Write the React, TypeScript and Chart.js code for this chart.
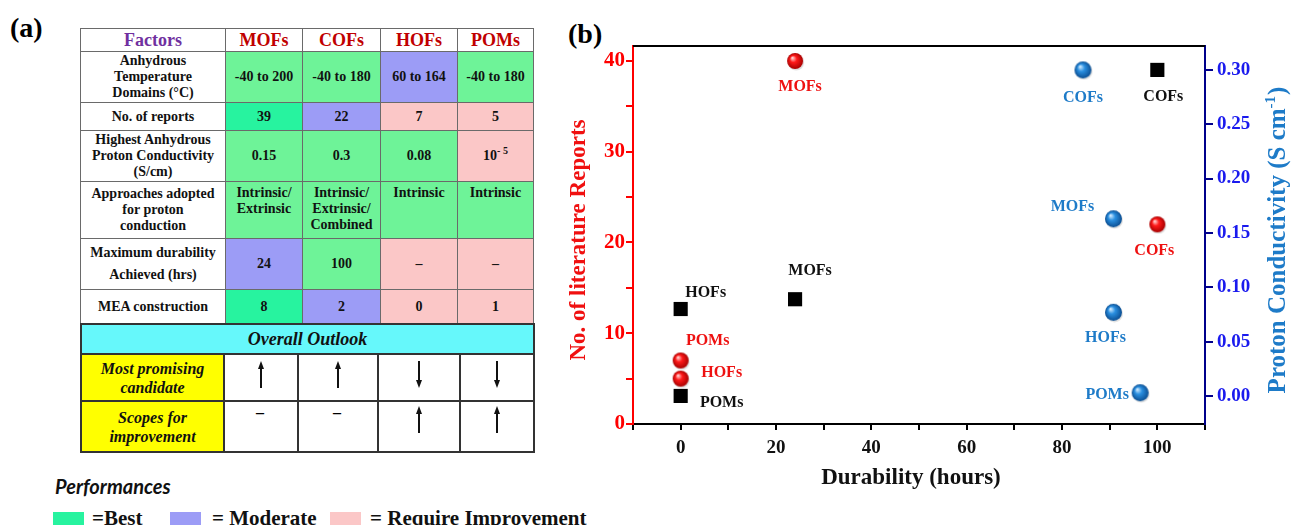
import React, { useEffect, useRef } from "react";
import { Chart, registerables } from "chart.js";
Chart.register(...registerables);

// ---------- Panel (a) table data ----------
const materials = ["MOFs", "COFs", "HOFs", "POMs"];
const factorNames = [
  "Anhydrous\nTemperature\nDomains (°C)",
  "No. of reports",
  "Highest Anhydrous\nProton Conductivity\n(S/cm)",
  "Approaches adopted\nfor proton\nconduction",
  "Maximum durability\nAchieved (hrs)",
  "MEA construction",
];
const tempDomains = ["-40 to 200", "-40 to 180", "60 to 164", "-40 to 180"];
const reportCounts = ["39", "22", "7", "5"];
const conductivities = ["0.15", "0.3", "0.08", "10^- 5"];
const approaches = ["Intrinsic/\nExtrinsic", "Intrinsic/\nExtrinsic/\nCombined", "Intrinsic", "Intrinsic"];
const durabilities = ["24", "100", "–", "–"];
const meaCounts = ["8", "2", "0", "1"];
// B = best, G = good, M = moderate, R = require improvement
const ratings = [
  ["G", "G", "M", "G"],
  ["B", "M", "R", "R"],
  ["G", "G", "G", "R"],
  ["G", "G", "G", "G"],
  ["M", "G", "R", "R"],
  ["B", "M", "R", "R"],
];
const outlookTitle = "Overall Outlook";
const outlookRows = ["Most promising\ncandidate", "Scopes for\nimprovement"];
const promising = ["up", "up", "down", "down"];
const scopes = ["dash", "dash", "up", "up"];
const legendItems = ["=Best", "= Moderate", "= Require Improvement"];
const legendKeys = ["B", "M", "R"];

// ---------- Panel (b) chart data ----------
const redLabels = ["MOFs", "COFs", "POMs", "HOFs"];
const redDurability = [24, 100, 0, 0];
const redReports = [40, 22, 7, 5];

const blackLabels = ["COFs", "MOFs", "HOFs", "POMs"];
const blackDurability = [100, 24, 0, 0];
const blackConductivity = [0.3, 0.089, 0.08, 0.00001];

const blueLabels = ["COFs", "MOFs", "HOFs", "POMs"];
const blueDurability = [84.4, 90.8, 90.8, 96.4];
const blueConductivity = [0.3, 0.163, 0.077, 0.003];

const xTickValues = [0, 20, 40, 60, 80, 100];
const yTickValues = [0, 10, 20, 30, 40];
const xTitle = "Durability (hours)";
const yTitle = "No. of literature Reports";
const y2TitleMain = "Proton Conductivity (S cm";
const y2TitleSup = "-1";
const y2TitleEnd = ")";

// label offsets relative to each mark (styling)
const redOffsets = [[5, 26], [-3, 27], [27, -20], [41, -6]];
const blackOffsets = [[6, 27], [15, -28], [25, -16], [41, 7]];
const blueOffsets = [[0, 28], [-41, -12], [-8, 26], [-33, 2]];

const COLORS: Record<string, string> = {
  B: "#27f39f",
  G: "#6ef398",
  M: "#9c9cf6",
  R: "#fbc7c7",
};

const SERIF = '"Liberation Serif", "Times New Roman", serif';

function makeSphere(r: number, light: string, mid: string, dark: string) {
  const c = document.createElement("canvas");
  const s = Math.ceil(r * 2 + 4);
  c.width = s;
  c.height = s;
  const g = c.getContext("2d")!;
  const cx = s / 2, cy = s / 2;
  g.fillStyle = "rgba(0,0,0,0.12)";
  g.beginPath();
  g.arc(cx + 1, cy + 1.5, r, 0, Math.PI * 2);
  g.fill();
  const grad = g.createRadialGradient(cx - r * 0.35, cy - r * 0.4, r * 0.05, cx, cy, r);
  grad.addColorStop(0, light);
  grad.addColorStop(0.4, mid);
  grad.addColorStop(1, dark);
  g.fillStyle = grad;
  g.beginPath();
  g.arc(cx, cy, r, 0, Math.PI * 2);
  g.fill();
  return c;
}

function renderText(t: string) {
  if (t.includes("^")) {
    const [base, sup] = t.split("^");
    return (
      <span>
        {base}
        <sup style={{ fontSize: 10, verticalAlign: "6px", lineHeight: 0 }}>{sup}</sup>
      </span>
    );
  }
  return t;
}

function Cell(props: {
  x: number; y: number; w: number; h: number; bg?: string; border?: string;
  children?: React.ReactNode; style?: React.CSSProperties; valign?: string;
}) {
  const { x, y, w, h, bg, border, children, style, valign } = props;
  const bw = border === "dark" ? 2 : 1;
  const bc = border === "dark" ? "#333" : "#6a6a6a";
  return (
    <div
      style={{
        position: "absolute",
        left: x,
        top: y,
        width: w + bw,
        height: h + bw,
        boxSizing: "border-box",
        border: `${bw}px solid ${bc}`,
        background: bg || "#fff",
        display: "flex",
        alignItems: valign || "center",
        justifyContent: "center",
        textAlign: "center",
        whiteSpace: "pre-line",
        fontWeight: "bold",
        fontSize: 14,
        lineHeight: "16px",
        color: "#111",
        ...style,
      }}
    >
      {children}
    </div>
  );
}

function Arrow({ dir, x, y, len }: { dir: string; x: number; y: number; len: number }) {
  return (
    <svg style={{ position: "absolute", left: x - 5, top: y }} width={10} height={len}>
      {dir === "up" ? (
        <g>
          <line x1={5} y1={6} x2={5} y2={len} stroke="#111" strokeWidth={2} />
          <polygon points={`5,0 2,8 8,8`} fill="#111" />
        </g>
      ) : (
        <g>
          <line x1={5} y1={0} x2={5} y2={len - 6} stroke="#111" strokeWidth={2} />
          <polygon points={`5,${len} 2,${len - 8} 8,${len - 8}`} fill="#111" />
        </g>
      )}
    </svg>
  );
}

export default function App() {
  const ref = useRef<HTMLCanvasElement>(null);

  useEffect(() => {
    const redSphere = makeSphere(8, "#ffd6d6", "#ff1a1a", "#a80000");
    const blueSphere = makeSphere(8.5, "#cfeaff", "#2a8fe0", "#0b4e92");

    const labelSets = [
      { labels: redLabels, offsets: redOffsets, color: "#ee1111" },
      { labels: blackLabels, offsets: blackOffsets, color: "#111111" },
      { labels: blueLabels, offsets: blueOffsets, color: "#1e7bc8" },
    ];

    const labelPlugin = {
      id: "pointLabels",
      afterDatasetsDraw(chart: any) {
        const ctx = chart.ctx;
        labelSets.forEach((set, di) => {
          const meta = chart.getDatasetMeta(di);
          meta.data.forEach((el: any, i: number) => {
            const [dx, dy] = set.offsets[i];
            ctx.save();
            ctx.font = `bold 16px ${SERIF}`;
            ctx.fillStyle = set.color;
            ctx.textAlign = "center";
            ctx.textBaseline = "middle";
            ctx.fillText(set.labels[i], el.x + dx, el.y + dy);
            ctx.restore();
          });
        });
      },
    };

    const decorations = {
      id: "decorations",
      afterDraw(chart: any) {
        const { ctx, chartArea } = chart;
        ctx.save();
        ctx.strokeStyle = "#000";
        ctx.lineWidth = 2;
        ctx.beginPath();
        ctx.moveTo(chartArea.left, chartArea.top);
        ctx.lineTo(chartArea.right, chartArea.top);
        ctx.stroke();
        ctx.font = `bold 23px ${SERIF}`;
        ctx.fillStyle = "#111";
        ctx.textAlign = "center";
        ctx.textBaseline = "middle";
        ctx.fillText(xTitle, chartArea.left + (chartArea.right - chartArea.left) * 0.486, 478);
        ctx.save();
        ctx.translate(19, 240);
        ctx.rotate(-Math.PI / 2);
        ctx.font = `bold 23px ${SERIF}`;
        ctx.fillStyle = "#f01010";
        ctx.fillText(yTitle, 0, 0);
        ctx.restore();
        ctx.save();
        ctx.translate(chart.width - 12, 240);
        ctx.rotate(-Math.PI / 2);
        ctx.fillStyle = "#1e7bc8";
        const mainFont = `bold 25px ${SERIF}`;
        const supFont = `bold 15px ${SERIF}`;
        ctx.font = mainFont;
        const w1 = ctx.measureText(y2TitleMain).width;
        const w3 = ctx.measureText(y2TitleEnd).width;
        ctx.font = supFont;
        const w2 = ctx.measureText(y2TitleSup).width;
        const total = w1 + w2 + w3 + 1;
        let x0 = -total / 2;
        ctx.textAlign = "left";
        ctx.font = mainFont;
        ctx.fillText(y2TitleMain, x0, 0);
        x0 += w1;
        ctx.font = supFont;
        ctx.fillText(y2TitleSup, x0, -8);
        x0 += w2 + 1;
        ctx.font = mainFont;
        ctx.fillText(y2TitleEnd, x0, 0);
        ctx.restore();
        ctx.restore();
      },
    };

    const tickFont = (size: number) => ({ family: SERIF, weight: "bold" as const, size });

    const chart = new Chart(ref.current!, {
      type: "scatter",
      data: {
        datasets: [
          {
            label: "Reports",
            data: redDurability.map((x, i) => ({ x, y: redReports[i] })),
            yAxisID: "y",
            pointStyle: redSphere as any,
            pointRadius: 9,
          },
          {
            label: "Conductivity (durability)",
            data: blackDurability.map((x, i) => ({ x, y: blackConductivity[i] })),
            yAxisID: "y2",
            pointStyle: "rect",
            pointRadius: 10,
            backgroundColor: "#000",
            borderColor: "#000",
            borderWidth: 0,
          },
          {
            label: "Conductivity",
            data: blueDurability.map((x, i) => ({ x, y: blueConductivity[i] })),
            yAxisID: "y2",
            pointStyle: blueSphere as any,
            pointRadius: 9,
          },
        ],
      },
      options: {
        animation: false,
        responsive: false,
        devicePixelRatio: 1,
        layout: { padding: { top: 46, left: 0, right: 0, bottom: 0 } },
        plugins: { legend: { display: false }, tooltip: { enabled: false } },
        scales: {
          x: {
            type: "linear",
            position: "bottom",
            min: -10,
            max: 110,
            afterFit: (s: any) => { s.height = 101; },
            ticks: {
              stepSize: 10,
              includeBounds: false,
              autoSkip: false,
              maxRotation: 0,
              padding: 7,
              color: "#111",
              font: tickFont(19),
              callback: (v: any) => (xTickValues.includes(Number(v)) ? String(v) : ""),
            },
            grid: { drawOnChartArea: false, drawTicks: true, tickLength: 6, tickWidth: 2, tickColor: "#000", color: "#000", lineWidth: 2 },
            border: { display: true, color: "#000", width: 2 },
            title: { display: false },
          },
          y: {
            type: "linear",
            position: "left",
            min: 0,
            max: 41.65,
            afterFit: (s: any) => { s.width = 73; },
            ticks: {
              stepSize: 5,
              includeBounds: false,
              autoSkip: false,
              padding: 1,
              color: "#ff0000",
              font: tickFont(21),
              callback: (v: any) => (yTickValues.includes(Number(v)) ? String(v) : ""),
            },
            grid: { drawOnChartArea: false, drawTicks: true, tickLength: 7, tickWidth: 2, tickColor: "#ff0000", color: "#ff0000", lineWidth: 2 },
            border: { display: true, color: "#ff0000", width: 2 },
            title: { display: false },
          },
          y2: {
            type: "linear",
            position: "right",
            min: -0.0258,
            max: 0.322,
            afterFit: (s: any) => { s.width = 86; },
            ticks: {
              stepSize: 0.05,
              includeBounds: false,
              autoSkip: false,
              padding: 4,
              color: "#1a1aee",
              font: tickFont(19),
              callback: (v: any) => Number(v).toFixed(2),
            },
            grid: { drawOnChartArea: false, drawTicks: true, tickLength: 8, tickWidth: 2, tickColor: "#00008b", color: "#00008b", lineWidth: 2 },
            border: { display: true, color: "#00008b", width: 2 },
            title: { display: false },
          },
        },
      },
      plugins: [labelPlugin, decorations],
    } as any);
    return () => chart.destroy();
  }, []);

  const colX = [80, 225, 302, 380, 457, 533];
  const outX = [80, 223, 297, 377, 459, 533];
  const rowY = [28, 51, 102, 130, 181, 238, 289, 323];
  const outY = [323, 353, 400, 451];
  const rowValues = [tempDomains, reportCounts, conductivities, approaches, durabilities, meaCounts];

  const cells: React.ReactNode[] = [];
  cells.push(
    <Cell key="h0" x={colX[0]} y={rowY[0]} w={colX[1] - colX[0]} h={rowY[1] - rowY[0]}
      style={{ fontSize: 18, color: "#7030a0" }}>Factors</Cell>
  );
  materials.forEach((m, j) =>
    cells.push(
      <Cell key={"h" + (j + 1)} x={colX[j + 1]} y={rowY[0]} w={colX[j + 2] - colX[j + 1]} h={rowY[1] - rowY[0]}
        style={{ fontSize: 18, color: "#c00000" }}>{m}</Cell>
    )
  );
  factorNames.forEach((f, i) => {
    const y = rowY[i + 1], h = rowY[i + 2] - rowY[i + 1];
    cells.push(
      <Cell key={"f" + i} x={colX[0]} y={y} w={colX[1] - colX[0]} h={h}
        style={i === 4 ? { lineHeight: "22px" } : {}}>{f}</Cell>
    );
    rowValues[i].forEach((v, j) =>
      cells.push(
        <Cell key={`v${i}-${j}`} x={colX[j + 1]} y={y} w={colX[j + 2] - colX[j + 1]} h={h}
          bg={COLORS[ratings[i][j]]} valign={i === 3 ? "flex-start" : "center"}
          style={i === 3 ? { paddingTop: 3 } : {}}>{renderText(v)}</Cell>
      )
    );
  });
  cells.push(
    <Cell key="ot" x={outX[0]} y={outY[0]} w={outX[5] - outX[0]} h={outY[1] - outY[0]} bg="#66f8fb" border="dark"
      style={{ fontSize: 18, fontStyle: "italic" }}>{outlookTitle}</Cell>
  );
  [promising, scopes].forEach((row, r) => {
    const y = outY[r + 1], h = outY[r + 2] - outY[r + 1];
    cells.push(
      <Cell key={"or" + r} x={outX[0]} y={y} w={outX[1] - outX[0]} h={h} bg="#ffff00" border="dark"
        style={{ fontSize: 16, fontStyle: "italic", lineHeight: "19px" }}>{outlookRows[r]}</Cell>
    );
    row.forEach((a, j) => {
      const x = outX[j + 1], w = outX[j + 2] - outX[j + 1];
      cells.push(<Cell key={`oc${r}-${j}`} x={x} y={y} w={w} h={h} border="dark" />);
      const cx = x + w / 2 + 1;
      if (a === "dash") {
        cells.push(
          <div key={`od${r}-${j}`} style={{ position: "absolute", left: x, width: w, top: y + 3, textAlign: "center", fontSize: 16, fontWeight: "bold", lineHeight: "20px" }}>–</div>
        );
      } else {
        cells.push(<Arrow key={`oa${r}-${j}`} dir={a} x={cx} y={r === 0 ? y + 8 : y + 6} len={27} />);
      }
    });
  });

  const legendX = [[53, 92], [170, 212], [330, 370]];

  return (
    <div style={{ position: "fixed", left: 0, top: 0, width: 1291, height: 525, background: "#fff", overflow: "hidden", fontFamily: SERIF }}>
      <div style={{ position: "absolute", left: 10, top: 14, fontSize: 28, fontWeight: "bold", lineHeight: "28px" }}>(a)</div>
      <div style={{ position: "absolute", left: 568, top: 20, fontSize: 28, fontWeight: "bold", lineHeight: "28px" }}>(b)</div>
      {cells}
      <div style={{ position: "absolute", left: 55, top: 475, fontFamily: "Lato, 'Open Sans', sans-serif", fontStyle: "italic", fontWeight: "bold", fontSize: 20, lineHeight: "22px", color: "#111" }}>Performances</div>
      {legendItems.map((t, i) => (
        <React.Fragment key={"lg" + i}>
          <div style={{ position: "absolute", left: legendX[i][0], top: 512, width: 31, height: 16, background: COLORS[legendKeys[i]] }} />
          <div style={{ position: "absolute", left: legendX[i][1], top: 506, fontSize: 21, fontWeight: "bold", lineHeight: "24px", whiteSpace: "nowrap", color: "#111" }}>{t}</div>
        </React.Fragment>
      ))}
      <div style={{ position: "absolute", left: 560, top: 0, width: 731, height: 525 }}>
        <canvas ref={ref} width={731} height={525} style={{ width: 731, height: 525, display: "block" }} />
      </div>
    </div>
  );
}
